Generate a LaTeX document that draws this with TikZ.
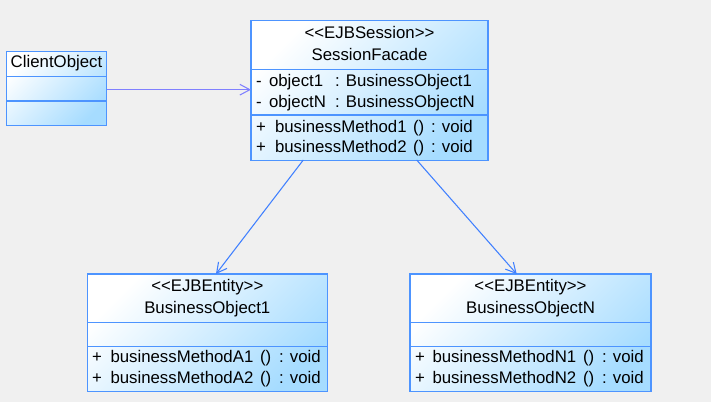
\documentclass[tikz,border=0pt]{standalone}
\usepackage{fontspec}
\setmainfont{Liberation Sans}
\usetikzlibrary{arrows.meta,calc}
\definecolor{bgc}{RGB}{240,240,240}
\definecolor{bordc}{RGB}{77,148,255}
\definecolor{fillc}{RGB}{166,220,255}
\definecolor{arrc}{RGB}{64,128,255}
\definecolor{arrl}{RGB}{128,128,255}
\newcommand{\cellat}[4]{\node[txt, anchor=base west] (#1) at (#2,#3) {#4};}
\newcommand{\cellmid}[4]{\node[txt, anchor=base] (#1) at (#2,#3) {#4};}
\begin{document}
\begin{tikzpicture}[x=0.75pt,y=-0.75pt,
  umlbox/.style={draw=bordc, line width=1pt, top color=white, bottom color=fillc, shading angle=45, inner sep=0pt, outer sep=0pt, anchor=north west},
  sepline/.style={draw=bordc, line width=1pt},
  txt/.style={inner sep=0pt, outer sep=0pt, font=\fontsize{12.6}{15}\selectfont, text=black},
  assoc/.style={draw=arrc, line width=0.8pt, -{Straight Barb[length=7.5pt, width=8pt, line width=0.8pt]}},
  assocl/.style={draw=arrl, line width=0.8pt, -{Straight Barb[length=7.5pt, width=8pt, line width=0.8pt]}}]
\fill[bgc] (0,0) rectangle (711,402);
\useasboundingbox (0,0) rectangle (711,402);

% boxes
\node[umlbox, minimum width=75pt, minimum height=55.5pt] (co) at (6.5,51.5) {};
\node[umlbox, minimum width=177.75pt, minimum height=105pt] (sf) at (251,20.5) {};
\node[umlbox, minimum width=180pt, minimum height=88pt] (bo1) at (87.3,274) {};
\node[umlbox, minimum width=180.75pt, minimum height=88pt] (bon) at (410,274) {};

% compartments
\draw[sepline] (co.west |- 0,76.5) -- (co.east |- 0,76.5);
\draw[sepline] (co.west |- 0,101) -- (co.east |- 0,101);
\draw[sepline] (sf.west |- 0,69.3) -- (sf.east |- 0,69.3);
\draw[sepline] (sf.west |- 0,115) -- (sf.east |- 0,115);
\draw[sepline] (bo1.west |- 0,322.7) -- (bo1.east |- 0,322.7);
\draw[sepline] (bo1.west |- 0,346.7) -- (bo1.east |- 0,346.7);
\draw[sepline] (bon.west |- 0,322.7) -- (bon.east |- 0,322.7);
\draw[sepline] (bon.west |- 0,346.7) -- (bon.east |- 0,346.7);

% ClientObject
\cellmid{coname}{56.5}{68}{ClientObject}

% SessionFacade
\cellmid{sfst}{369.5}{39}{<{}<EJBSession>{}>}
\cellmid{sfname}{369.5}{61}{SessionFacade}
\cellat{sfa1s}{256}{87}{-}
\cellat{sfa1n}{269}{87}{object1}
\cellat{sfa1t}{335}{87}{: BusinessObject1}
\cellat{sfa2s}{256}{108}{-}
\cellat{sfa2n}{269}{108}{objectN}
\cellat{sfa2t}{335}{108}{: BusinessObjectN}
\cellat{sfm1s}{256}{133}{+}
\cellat{sfm1n}{275}{133}{businessMethod1}
\cellat{sfm1p}{413}{133}{()}
\cellat{sfm1t}{431}{133}{: void}
\cellat{sfm2s}{256}{153}{+}
\cellat{sfm2n}{275}{153}{businessMethod2}
\cellat{sfm2p}{413}{153}{()}
\cellat{sfm2t}{431}{153}{: void}

% BusinessObject1
\cellmid{bo1st}{207.3}{292}{<{}<EJBEntity>{}>}
\cellmid{bo1name}{207.3}{314}{BusinessObject1}
\cellat{bo1m1s}{92}{363}{+}
\cellat{bo1m1n}{110.5}{363}{businessMethodA1}
\cellat{bo1m1p}{260}{363}{()}
\cellat{bo1m1t}{279}{363}{: void}
\cellat{bo1m2s}{92}{384}{+}
\cellat{bo1m2n}{110.5}{384}{businessMethodA2}
\cellat{bo1m2p}{260}{384}{()}
\cellat{bo1m2t}{279}{384}{: void}

% BusinessObjectN
\cellmid{bonst}{530.5}{292}{<{}<EJBEntity>{}>}
\cellmid{bonname}{530.5}{314}{BusinessObjectN}
\cellat{bonm1s}{415}{363}{+}
\cellat{bonm1n}{432.5}{363}{businessMethodN1}
\cellat{bonm1p}{583}{363}{()}
\cellat{bonm1t}{602}{363}{: void}
\cellat{bonm2s}{415}{384}{+}
\cellat{bonm2n}{432.5}{384}{businessMethodN2}
\cellat{bonm2p}{583}{384}{()}
\cellat{bonm2t}{602}{384}{: void}

% connector end points on the box borders
\coordinate (coout) at (co.east |- 0,89.7);
\coordinate (sfin) at (sf.west |- 0,89.7);
\coordinate (sfout1) at (303.3,160);
\coordinate (bo1in) at (216,274);
\coordinate (sfoutn) at (416.7,160);
\coordinate (bonin) at (516.7,274);

\draw[assocl] (coout) -- (sfin);
\draw[assoc] (sfout1) -- (bo1in);
\draw[assoc] (sfoutn) -- (bonin);
\end{tikzpicture}
\end{document}
